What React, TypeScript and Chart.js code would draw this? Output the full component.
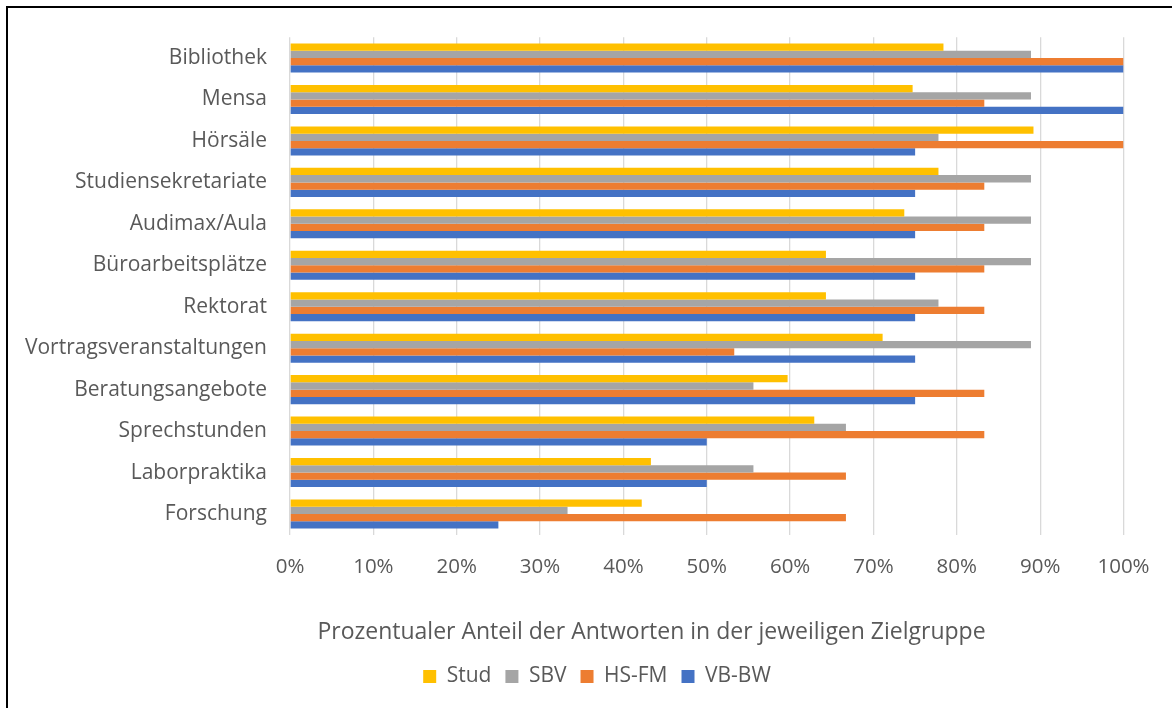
import React, { useEffect, useRef } from "react";
import { Chart, registerables } from "chart.js";

Chart.register(...registerables);

const categories = [
  "Bibliothek",
  "Mensa",
  "Hörsäle",
  "Studiensekretariate",
  "Audimax/Aula",
  "Büroarbeitsplätze",
  "Rektorat",
  "Vortragsveranstaltungen",
  "Beratungsangebote",
  "Sprechstunden",
  "Laborpraktika",
  "Forschung",
];

const stud = [78.4, 74.7, 89.2, 77.8, 73.7, 64.3, 64.3, 71.1, 59.7, 62.9, 43.3, 42.2];
const sbv = [88.9, 88.9, 77.8, 88.9, 88.9, 88.9, 77.8, 88.9, 55.6, 66.7, 55.6, 33.3];
const hsfm = [100, 83.3, 100, 83.3, 83.3, 83.3, 83.3, 53.3, 83.3, 83.3, 66.7, 66.7];
const vbbw = [100, 100, 75, 75, 75, 75, 75, 75, 75, 50, 50, 25];

const seriesNames = ["Stud", "SBV", "HS-FM", "VB-BW"];
const seriesColors = ["#FFC000", "#A5A5A5", "#ED7D31", "#4472C4"];
const axisTitle = "Prozentualer Anteil der Antworten in der jeweiligen Zielgruppe";

const FONT = "'Open Sans', 'Noto Sans', sans-serif";
const TEXT = "#595959";

export default function App() {
  const ref = useRef<HTMLCanvasElement | null>(null);

  useEffect(() => {
    if (!ref.current) return;
    const titlePlugin = {
      id: "axisTitleText",
      beforeDraw(chart: any) {
        const lg = chart.legend;
        if (lg) {
          const w = lg.right - lg.left;
          lg.left = 589 - w / 2;
          lg.right = 589 + w / 2;
        }
      },
      afterDraw(chart: any) {
        const ctx = chart.ctx;
        ctx.save();
        ctx.font = `23px ${FONT}`;
        ctx.fillStyle = TEXT;
        ctx.textAlign = "center";
        ctx.textBaseline = "middle";
        ctx.fillText(axisTitle, 643.5, 632);
        ctx.restore();
      },
    };
    const values = [stud, sbv, hsfm, vbbw];
    const chart = new Chart(ref.current, {
      type: "bar",
      data: {
        labels: categories,
        datasets: seriesNames.map((name, i) => ({
          label: name,
          data: values[i],
          backgroundColor: seriesColors[i],
          borderWidth: 0,
          categoryPercentage: 0.7,
          barPercentage: 1.0,
        })),
      },
      options: {
        indexAxis: "y",
        animation: false,
        responsive: false,
        maintainAspectRatio: false,
        layout: { padding: { left: 0, right: 62.5, top: 37.3, bottom: 11 } },
        plugins: {
          tooltip: { enabled: false },
          legend: {
            position: "bottom",
            labels: {
              font: { family: FONT, size: 21 },
              color: TEXT,
              boxWidth: 13,
              boxHeight: 13,
              padding: 14,
            },
          },
        },
        scales: {
          x: {
            min: 0,
            max: 100,
            ticks: {
              stepSize: 10,
              callback: (v: any) => v + "%",
              font: { family: FONT, size: 20.5 },
              color: TEXT,
              padding: 20.5,
              maxRotation: 0,
            },
            grid: { color: "#D9D9D9", lineWidth: 1.3, drawTicks: false },
            border: { display: false },
            afterFit: (scale: any) => {
              scale.height = 117.3;
            },
          },
          y: {
            ticks: {
              font: { family: FONT, size: 21 },
              color: TEXT,
              padding: 23,
            },
            grid: { display: false, drawTicks: false },
            border: { display: false },
            afterFit: (scale: any) => {
              scale.width = 282;
            },
          },
        },
      },
      plugins: [titlePlugin],
    });
    return () => chart.destroy();
  }, []);

  return (
    <div
      style={{
        position: "fixed",
        left: 0,
        top: 0,
        width: 1172,
        height: 708,
        overflow: "hidden",
        background: "#fff",
      }}
    >
      <div
        style={{
          position: "absolute",
          left: 6,
          top: 6,
          width: 1400,
          height: 900,
          border: "2px solid #000",
        }}
      />
      <canvas
        ref={ref}
        width={1178}
        height={708}
        style={{ position: "absolute", left: 8, top: 0, width: 1178, height: 708 }}
      />
    </div>
  );
}
